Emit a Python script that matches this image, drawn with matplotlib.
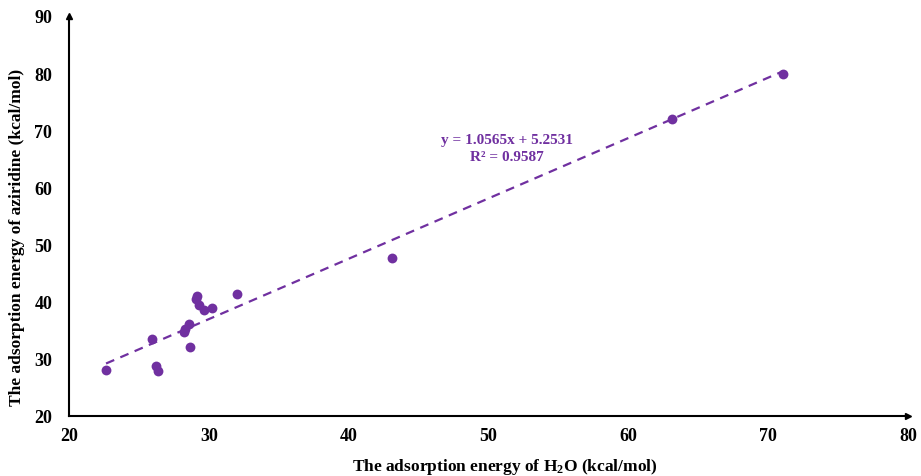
import matplotlib
matplotlib.use("Agg")
import matplotlib.pyplot as plt
import numpy as np

plt.rcParams['font.family'] = ['Liberation Serif', 'DejaVu Serif']
plt.rcParams['font.weight'] = 'bold'
plt.rcParams['mathtext.fontset'] = 'custom'
plt.rcParams['mathtext.rm'] = 'Liberation Serif:bold'
plt.rcParams['mathtext.bf'] = 'Liberation Serif:bold'
plt.rcParams['mathtext.default'] = 'rm'

# adsorption energies (kcal/mol)
h2o = [22.65, 25.94, 26.2, 26.4, 28.2, 28.3, 28.6, 28.65, 29.13, 29.08,
       29.3, 29.68, 30.25, 32.05, 43.1, 63.1, 71.05]
aziridine = [28.05, 33.4, 28.75, 27.9, 34.7, 35.3, 36.1, 32.0, 41.05, 40.5,
             39.4, 38.6, 38.9, 41.3, 47.7, 72.0, 79.9]

slope = 1.0565
intercept = 5.2531
r2 = 0.9587

purple = '#7030A0'

fig = plt.figure(figsize=(9.21, 4.77), dpi=100)
ax = fig.add_axes([0.0749, 0.1258, 0.911, 0.8386])

ax.scatter(h2o, aziridine, s=50, color=purple, zorder=3, linewidths=0)

xfit = np.array([min(h2o), max(h2o)])
ax.plot(xfit, slope * xfit + intercept, linestyle=(0, (4, 3)), color=purple, lw=1.6)

ax.text(51.3, 66.9, "y = %.4fx + %.4f\nR² = %.4f" % (slope, intercept, r2),
        color=purple, fontsize=11, fontweight='bold', ha='center', va='center',
        linespacing=1.4)

ax.set_xlim(20, 80)
ax.set_ylim(20, 90)
ax.set_xticks(range(20, 81, 10))
ax.set_yticks(range(20, 91, 10))
ax.tick_params(length=0, labelsize=13)
ax.tick_params(axis='x', pad=8)
ax.tick_params(axis='y', pad=12)
for lab in ax.get_xticklabels() + ax.get_yticklabels():
    lab.set_fontweight('bold')

ax.spines['top'].set_visible(False)
ax.spines['right'].set_visible(False)
ax.spines['left'].set_linewidth(1.5)
ax.spines['bottom'].set_linewidth(1.5)

# arrow heads at axis ends
ax.plot(1, 0, '>k', markersize=5, transform=ax.transAxes, clip_on=False)
ax.plot(0, 1, '^k', markersize=5, transform=ax.transAxes, clip_on=False)

ax.set_xlabel("The adsorption energy of H$_2$O (kcal/mol)",
              fontsize=12.5, fontweight='bold')
ax.set_ylabel("The adsorption energy of aziridine (kcal/mol)",
              fontsize=12.5, fontweight='bold')
ax.xaxis.set_label_coords(0.52, -0.1)
ax.yaxis.set_label_coords(-0.053, 0.45)

fig.savefig("out.png", dpi=100)
